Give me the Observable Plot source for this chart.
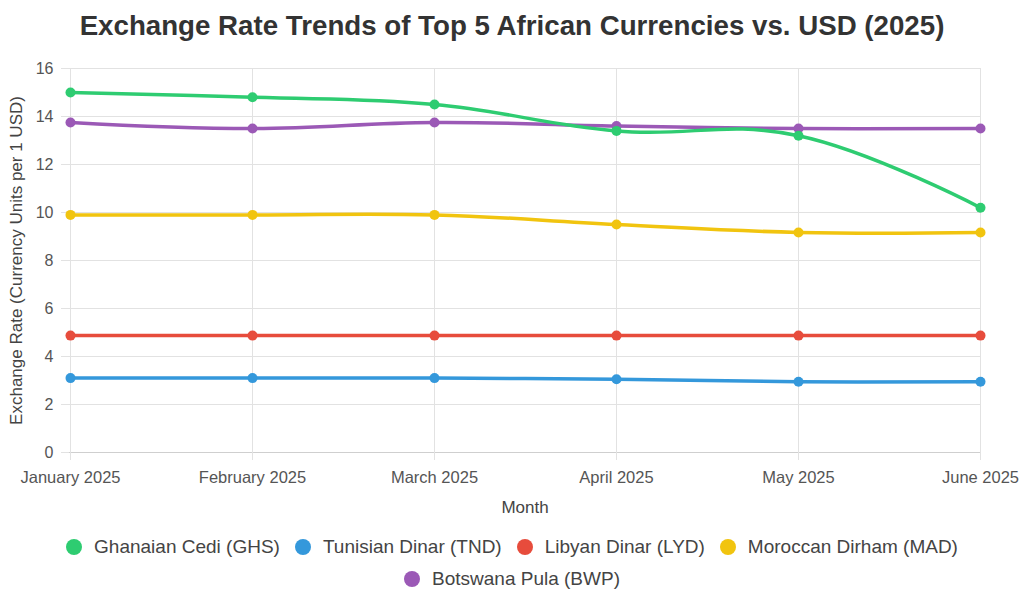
<!DOCTYPE html>
<html>
<head>
<meta charset="utf-8">
<script src="https://cdn.jsdelivr.net/npm/d3@7"></script>
<script src="https://cdn.jsdelivr.net/npm/@observablehq/plot@0.6"></script>
<style>
  html, body { margin: 0; padding: 0; background: #fff; }
  body { width: 1024px; height: 604px; overflow: hidden; font-family: "Liberation Sans", Arial, Helvetica, sans-serif; }
  #title { height: 50px; line-height: 52px; text-align: center; font-size: 27.7px; font-weight: bold; color: #333; }
  #chart svg { display: block; }
  #legend { width: 960px; margin: 11px auto 0; display: flex; flex-wrap: wrap; justify-content: center; column-gap: 15px; row-gap: 10px; font-size: 19px; color: #444; }
  .item { display: flex; align-items: center; height: 22px; }
  .dot { width: 16px; height: 16px; border-radius: 50%; margin-right: 12px; }
</style>
</head>
<body>
<div id="title">Exchange Rate Trends of Top 5 African Currencies vs. USD (2025)</div>
<div id="chart"></div>
<div id="legend"></div>
<script>
const months = ["January 2025", "February 2025", "March 2025", "April 2025", "May 2025", "June 2025"];
const seriesNames = ["Ghanaian Cedi (GHS)", "Tunisian Dinar (TND)", "Libyan Dinar (LYD)", "Moroccan Dirham (MAD)", "Botswana Pula (BWP)"];
const seriesColors = ["#2ecc71", "#3498db", "#e74c3c", "#f1c40f", "#9b59b6"];
const ghs = [15.0, 14.8, 14.5, 13.4, 13.2, 10.2];
const tnd = [3.1, 3.1, 3.1, 3.05, 2.95, 2.95];
const lyd = [4.87, 4.87, 4.87, 4.87, 4.87, 4.87];
const mad = [9.9, 9.9, 9.9, 9.5, 9.17, 9.17];
const bwp = [13.75, 13.5, 13.75, 13.6, 13.5, 13.5];
const yTicks = [0, 2, 4, 6, 8, 10, 12, 14, 16];

const valuesBySeries = [ghs, tnd, lyd, mad, bwp];
// draw order: last drawn on top (GHS on top)
const drawOrder = [4, 3, 2, 1, 0];
const rows = [];
for (const i of drawOrder) {
  months.forEach((m, j) => rows.push({series: seriesNames[i], month: m, value: valuesBySeries[i][j]}));
}

const chart = Plot.plot({
  width: 1024,
  height: 475,
  marginTop: 18,
  marginLeft: 69,
  marginRight: 44,
  marginBottom: 73,
  style: {fontFamily: "'Liberation Sans', Arial, Helvetica, sans-serif", fontSize: "16px", color: "#555", background: "#fff"},
  x: {type: "point", domain: months, padding: 0},
  y: {domain: [0, 16]},
  color: {domain: seriesNames, range: seriesColors},
  marks: [
    Plot.gridX(months, {stroke: "#e2e2e2", strokeOpacity: 1}),
    Plot.gridY(yTicks, {stroke: "#e2e2e2", strokeOpacity: 1}),
    Plot.ruleY([0], {stroke: "#cfcfcf"}),
    Plot.axisY(yTicks, {tickSize: 8, stroke: "#e2e2e2", strokeOpacity: 1, fill: "#555", tickPadding: 8, fontSize: 16, label: null}),
    Plot.axisY({ticks: [], tickSize: 0, fill: "#444", fontSize: 17,
      label: "Exchange Rate (Currency Units per 1 USD)", labelAnchor: "center", labelArrow: "none", labelOffset: 60}),
    Plot.axisX(months, {tickSize: 8, stroke: "#e2e2e2", strokeOpacity: 1, fill: "#555", tickPadding: 11, fontSize: 16.5, label: null}),
    Plot.axisX({ticks: [], tickSize: 0, fill: "#444", fontSize: 17,
      label: "Month", labelAnchor: "center", labelArrow: "none", labelOffset: 60}),
    Plot.line(rows, {x: "month", y: "value", z: "series", stroke: "series", strokeWidth: 3.5, curve: "cardinal", tension: -0.2}),
    Plot.dot(rows, {x: "month", y: "value", fill: "series", r: 5})
  ]
});
document.getElementById("chart").appendChild(chart);

const legend = document.getElementById("legend");
seriesNames.forEach((name, i) => {
  const item = document.createElement("div");
  item.className = "item";
  const dot = document.createElement("span");
  dot.className = "dot";
  dot.style.background = seriesColors[i];
  const label = document.createElement("span");
  label.textContent = name;
  item.appendChild(dot);
  item.appendChild(label);
  legend.appendChild(item);
});
</script>
</body>
</html>
